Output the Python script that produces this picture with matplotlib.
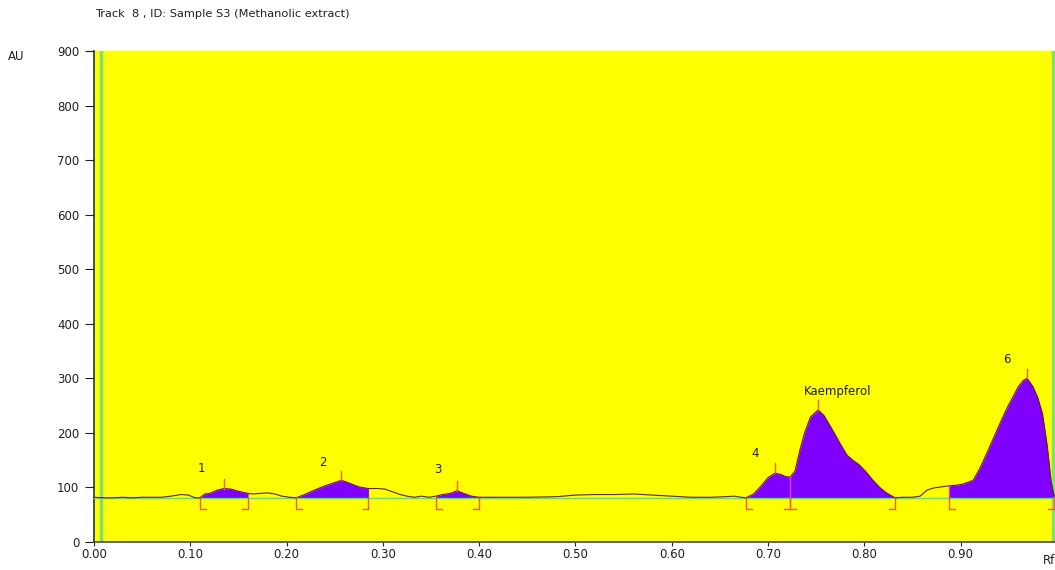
import numpy as np
import matplotlib
matplotlib.use("Agg")
import matplotlib.pyplot as plt

# densitogram trace (Rf, AU)
rf = [0.000, 0.010, 0.020, 0.030, 0.040, 0.050, 0.060, 0.070, 0.080, 0.090,
      0.098, 0.105, 0.110, 0.115, 0.120, 0.128, 0.135, 0.142, 0.150, 0.160,
      0.165, 0.172, 0.180, 0.188, 0.195, 0.203, 0.210, 0.220, 0.230, 0.240,
      0.250, 0.257, 0.265, 0.275, 0.285, 0.295, 0.302, 0.310, 0.318, 0.325,
      0.333, 0.340, 0.348, 0.355, 0.362, 0.370, 0.377, 0.384, 0.392, 0.400,
      0.420, 0.450, 0.480, 0.500, 0.520, 0.540, 0.560, 0.580, 0.600, 0.620,
      0.640, 0.655, 0.665, 0.672, 0.677, 0.685, 0.692, 0.700, 0.707, 0.713,
      0.718, 0.723, 0.728, 0.733, 0.738, 0.744, 0.752, 0.758, 0.767, 0.775,
      0.782, 0.788, 0.795, 0.802, 0.809, 0.816, 0.823, 0.832, 0.840, 0.850,
      0.858, 0.865, 0.872, 0.880, 0.888, 0.895, 0.902, 0.913, 0.920, 0.927,
      0.934, 0.941, 0.948, 0.954, 0.960, 0.965, 0.969, 0.975, 0.980, 0.985,
      0.990, 0.994, 0.997]
au = [82, 81, 81, 82, 81, 82, 82, 82, 84, 87,
      86, 81, 81, 88, 89, 95, 98, 97, 93, 89,
      88, 89, 90, 88, 84, 82, 81, 88, 96, 103,
      109, 113, 108, 101, 98, 98, 97, 92, 87, 84,
      82, 84, 82, 84, 87, 89, 94, 89, 84, 82,
      82, 82, 83, 86, 87, 87, 88, 86, 84, 82,
      82, 83, 84, 82, 81, 88, 101, 118, 126, 124,
      120, 119, 130, 168, 200, 229, 242, 232, 205, 180,
      159, 150, 141, 128, 113, 100, 90, 81, 82, 82,
      84, 95, 99, 101, 103, 104, 106, 113, 135, 162,
      190, 218, 245, 265, 285, 296, 300, 285, 265, 235,
      175, 110, 85]

baseline = 81
# integrated zones: start, end, apex Rf and label
peak_start = [0.110, 0.210, 0.355, 0.677, 0.723, 0.888]
peak_end = [0.160, 0.285, 0.400, 0.723, 0.832, 0.997]
peak_apex = [0.135, 0.257, 0.377, 0.707, 0.752, 0.969]
peak_labels = ["1", "2", "3", "4", "Kaempferol", "6"]
label_x = [0.112, 0.238, 0.357, 0.687, 0.772, 0.948]
label_y = [135, 146, 132, 163, 275, 335]

rf = np.array(rf)
au = np.array(au)

fig = plt.figure(figsize=(10.55, 5.70), dpi=100)
ax = fig.add_axes([94 / 1055, 28 / 570, 961 / 1055, 491 / 570])
ax.set_facecolor("#FFFF00")
ax.set_xlim(0, 0.998)
ax.set_ylim(0, 900)

# filled peaks
for s, e in zip(peak_start, peak_end):
    m = (rf >= s - 1e-9) & (rf <= e + 1e-9)
    ax.fill_between(rf[m], baseline, au[m], color="#8000FF", lw=0, zorder=2)

ax.axhline(baseline, color="#40E0C0", lw=1, zorder=3)
ax.plot(rf, au, color="#6A2010", lw=0.8, zorder=4)

# apex ticks
for x in peak_apex:
    top = np.interp(x, rf, au)
    ax.plot([x, x], [top, top + 18], color="#F06030", lw=1, zorder=5)

# zone brackets below baseline
foot = 0.006
for s in peak_start:
    ax.plot([s, s, s + foot], [baseline, 60, 60], color="#F06030", lw=1, zorder=5)
for e in peak_end:
    ax.plot([e - foot, e, e], [60, 60, baseline], color="#F06030", lw=1, zorder=5)
# split lines where zones touch
for s in [0.723, 0.888]:
    ax.plot([s, s], [baseline, np.interp(s, rf, au)], color="#E040C0", lw=1, zorder=5)

for x, y, t in zip(label_x, label_y, peak_labels):
    ax.text(x, y, t, fontsize=8.5, ha="center", va="center", color="#202020")

# track borders
for x in [0.007, 0.996]:
    ax.axvline(x, color="#80E070", lw=2.5, zorder=1)

ax.set_xticks(np.arange(0, 1.0, 0.1))
ax.set_xticklabels([f"{v:.2f}" for v in np.arange(0, 1.0, 0.1)])
ax.set_yticks(np.arange(0, 901, 100))
ax.tick_params(axis="y", length=6.5, width=0.8, labelsize=8.5, pad=4, colors="#202020")
ax.tick_params(axis="x", length=3, width=0.8, labelsize=8.5, pad=1, colors="#202020")
for side in ["top", "right"]:
    ax.spines[side].set_visible(False)
ax.spines["left"].set_color("#303020")
ax.spines["bottom"].set_color("#505020")
ax.spines["left"].set_linewidth(1.2)
ax.spines["bottom"].set_linewidth(1.2)

fig.text(95 / 1055, 1 - 14 / 570, "Track  8 , ID: Sample S3 (Methanolic extract)",
         fontsize=8.2, va="center", ha="left", color="#202020")
fig.text(8 / 1055, 1 - 57 / 570, "AU", fontsize=8.5, va="center", ha="left", color="#202020")
fig.text(1043 / 1055, 1 - 561 / 570, "Rf", fontsize=8.5, va="center", ha="left", color="#202020")

fig.savefig("out.png", dpi=100)
